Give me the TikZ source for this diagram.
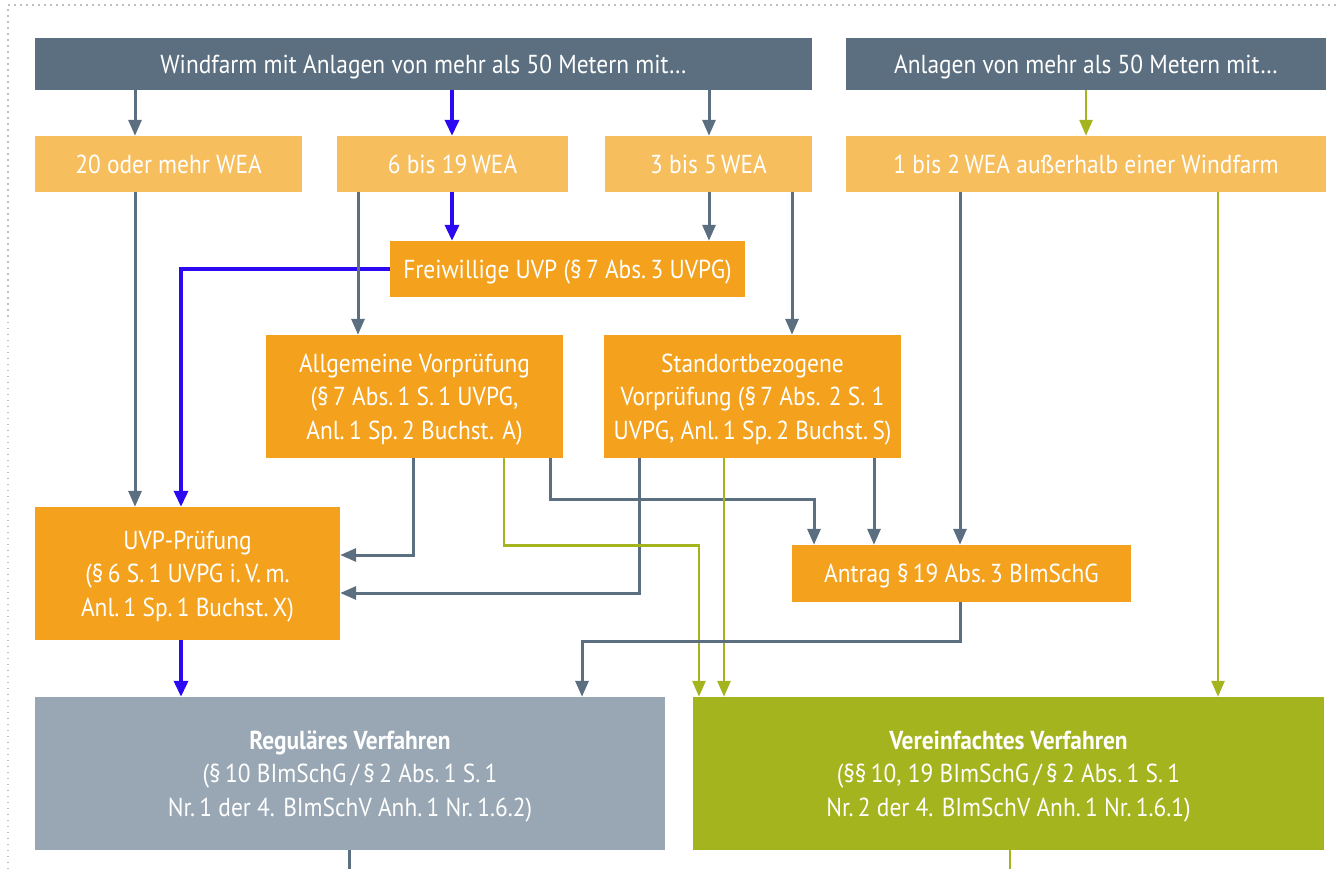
\documentclass[tikz,border=0pt]{standalone}
\usepackage{fontspec}
\setmainfont{PT Sans}[FakeStretch=0.9]
\usetikzlibrary{arrows.meta}
\definecolor{slate}{HTML}{5B6F80}
\definecolor{lightor}{HTML}{F7BE5E}
\definecolor{orng}{HTML}{F4A21D}
\definecolor{regcol}{HTML}{98A7B3}
\definecolor{olive}{HTML}{A4B41E}
\definecolor{blu}{HTML}{2B0AF2}
\begin{document}
\begin{tikzpicture}[x=1pt,y=-1pt,
  box/.style={rectangle,inner sep=0pt,text=white,align=center,text depth=0pt,font=\fontsize{26}{33.5}\selectfont},
  head/.style={box,fill=slate,minimum height=52pt},
  sel/.style={box,fill=lightor,minimum height=56pt},
  proc/.style={box,fill=orng},
  ga/.style={draw=slate,line width=3pt,-{Triangle[length=16pt,width=13pt]}},
  ba/.style={draw=blu,line width=3.5pt,-{Triangle[length=16pt,width=14pt]}},
  oa/.style={draw=olive,line width=2.8pt,-{Triangle[length=16pt,width=13pt]}}]
\useasboundingbox (0,0) rectangle (1336,869);
\draw[gray!50,line width=1.5pt,dash pattern=on 1.5pt off 4.5pt] (8,869) -- (8,5) -- (1336,5);

% Kopfzeile
\node[head,minimum width=777pt] (top1) at (423.5,64) {Windfarm mit Anlagen von mehr als 50 Metern mit…};
\node[head,minimum width=480pt] (top2) at (1086,64) {Anlagen von mehr als 50 Metern mit…};

% Anzahl der Anlagen
\node[sel,minimum width=267pt] (n20) at (168.5,164) {20 oder mehr WEA};
\node[sel,minimum width=231pt] (n6) at (452.5,164) {6 bis 19\,WEA};
\node[sel,minimum width=207pt] (n3) at (708.5,164) {3 bis 5\,WEA};
\node[sel,minimum width=480pt] (n1) at (1086,164) {1 bis 2\,WEA außerhalb einer Windfarm};

% Pruefungen
\node[proc,minimum width=355pt,minimum height=56pt] (frei) at (567.5,269) {Freiwillige UVP (§\,7 Abs.\,3 UVPG)};
\node[proc,minimum width=297pt,minimum height=123pt] (allg) at (414.5,396.5) {Allgemeine Vorprüfung\\(§\,7 Abs.\,1 S.\,1 UVPG,\\Anl.\,1 Sp.\,2 Buchst. A)};
\node[proc,minimum width=297pt,minimum height=123pt] (stand) at (752.5,396.5) {Standortbezogene\\Vorprüfung (§\,7 Abs. 2 S. 1\\UVPG, Anl.\,1 Sp.\,2 Buchst.\,S)};
\node[proc,minimum width=305pt,minimum height=133pt] (uvp) at (187.5,573.5) {UVP-Prüfung\\(§\,6 S.\,1 UVPG i.\,V.\,m.\\Anl.\,1 Sp.\,1 Buchst.\,X)};
\node[proc,minimum width=339pt,minimum height=57pt] (antrag) at (961.5,573.5) {Antrag §\,19 Abs.\,3 BImSchG};

% Verfahren
\node[box,fill=regcol,minimum width=630pt,minimum height=153pt] (reg) at (350,773.5) {\textbf{Reguläres Verfahren}\\(§\,10 BImSchG\,/\,§\,2 Abs.\,1 S.\,1\\Nr.\,1 der 4. BImSchV Anh.\,1 Nr.\,1.6.2)};
\node[box,fill=olive,minimum width=631pt,minimum height=153pt] (ver) at (1008.5,773.5) {\textbf{Vereinfachtes Verfahren}\\(§§\,10, 19 BImSchG\,/\,§\,2 Abs.\,1 S.\,1\\Nr.\,2 der 4. BImSchV Anh.\,1 Nr.\,1.6.1)};

% Pfeile
\draw[ba] (top1.south -| 452,0) -- (n6.north -| 452,0);
\draw[ba] (n6.south -| 452,0) -- (frei.north -| 452,0);
\draw[ba] (frei.west) -| (uvp.north -| 181,0);
\draw[ba] (uvp.south -| 181,0) -- (reg.north -| 181,0);
\draw[ga] (top1.south -| 135,0) -- (n20.north -| 135,0);
\draw[ga] (top1.south -| 709,0) -- (n3.north -| 709,0);
\draw[oa] (top2.south) -- (n1.north);
\draw[ga] (n20.south -| 135,0) -- (uvp.north -| 135,0);
\draw[ga] (n6.south -| 358,0) -- (allg.north -| 358,0);
\draw[ga] (n3.south -| 709,0) -- (frei.north -| 709,0);
\draw[ga] (n3.south -| 792,0) -- (stand.north -| 792,0);
\draw[ga] (n1.south -| 960,0) -- (antrag.north -| 960,0);
\draw[oa] (n1.south -| 1218,0) -- (ver.north -| 1218,0);
\draw[ga] (allg.south -| 413,0) |- (uvp.east |- 0,555);
\draw[ga] (allg.south -| 550,0) -- ++(0,41) -| (antrag.north -| 814,0);
\draw[ga] (stand.south -| 639,0) |- (uvp.east |- 0,593);
\draw[ga] (stand.south -| 874,0) -- (antrag.north -| 874,0);
\draw[oa] (allg.south -| 504,0) -- ++(0,87) -| (ver.north -| 699,0);
\draw[oa] (stand.south -| 724,0) -- (ver.north -| 724,0);
\draw[ga] (antrag.south -| 960,0) -- ++(0,39) -| (reg.north -| 582,0);
\draw[draw=slate,line width=3pt] (reg.south -| 349,0) -- ++(0,25);
\draw[draw=olive,line width=2.8pt] (ver.south -| 1010,0) -- ++(0,25);
\end{tikzpicture}
\end{document}
